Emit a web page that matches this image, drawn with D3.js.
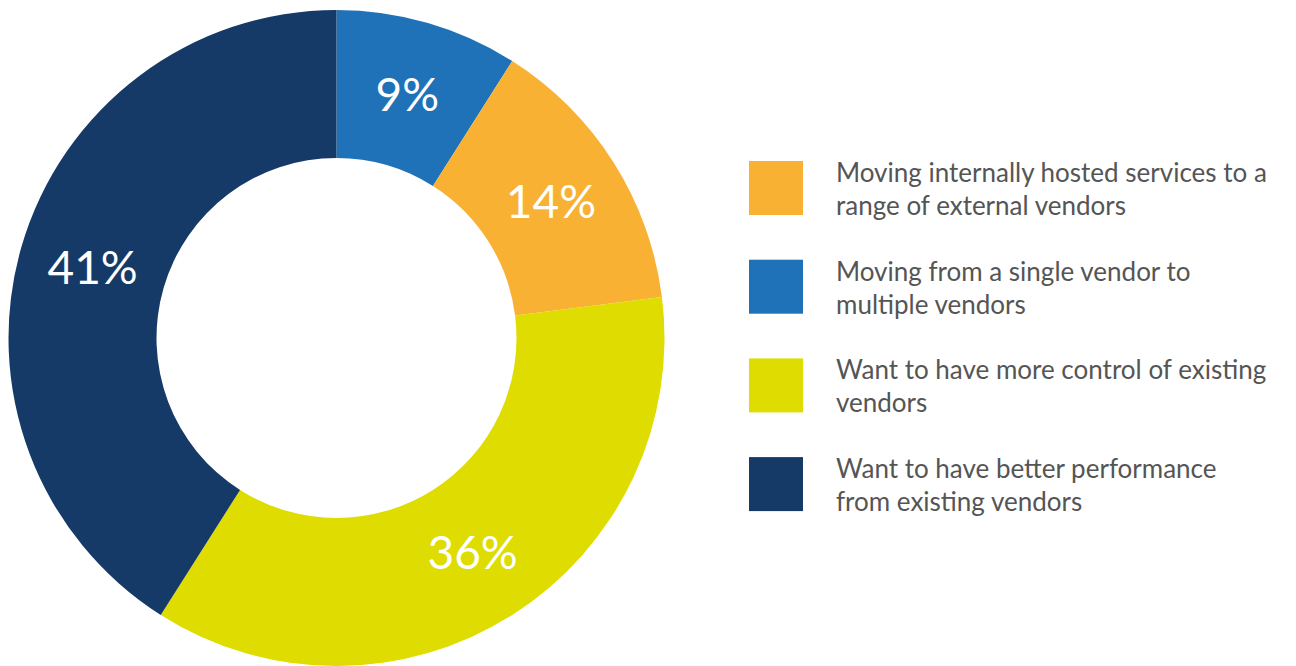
<!DOCTYPE html>
<html>
<head>
<meta charset="utf-8">
<script src="https://cdn.jsdelivr.net/npm/d3@7/dist/d3.min.js"></script>
<style>
  html, body { margin: 0; padding: 0; background: #fff; }
  svg { display: block; }
</style>
</head>
<body>
<svg id="chart" width="1296" height="666"></svg>
<script>
// Reasons for changing vendor arrangements (share of respondents, %)
const categories = [
  "Moving internally hosted services to a range of external vendors",
  "Moving from a single vendor to multiple vendors",
  "Want to have more control of existing vendors",
  "Want to have better performance from existing vendors"
];
const values = [14, 9, 36, 41];
const colors = ["#F8B133", "#1F72B8", "#DEDC00", "#163A67"];
// Legend text split into display lines
const legendLines = [
  ["Moving internally hosted services to a", "range of external vendors"],
  ["Moving from a single vendor to", "multiple vendors"],
  ["Want to have more control of existing", "vendors"],
  ["Want to have better performance", "from existing vendors"]
];
// Clockwise drawing order of the ring, starting at twelve o'clock
const ringOrder = [1, 0, 2, 3];

const svg = d3.select("#chart");
const cx = 336.5, cy = 338, outerR = 328, innerR = 180;
const fontFamily = "'Lato', 'Open Sans', sans-serif";

const data = ringOrder.map(i => ({ name: categories[i], value: values[i], color: colors[i] }));

const pie = d3.pie().sort(null).value(d => d.value);
const arc = d3.arc().innerRadius(innerR).outerRadius(outerR);
const labelArc = d3.arc().innerRadius((innerR + outerR) / 2).outerRadius((innerR + outerR) / 2);

const g = svg.append("g").attr("transform", `translate(${cx},${cy})`);
const arcs = pie(data);

g.selectAll("path.slice")
  .data(arcs)
  .join("path")
  .attr("class", "slice")
  .attr("d", arc)
  .attr("fill", d => d.data.color);

g.selectAll("text.pct")
  .data(arcs)
  .join("text")
  .attr("class", "pct")
  .attr("transform", d => `translate(${labelArc.centroid(d)})`)
  .attr("text-anchor", "middle")
  .attr("dy", "0.36em")
  .attr("fill", "#fff")
  .attr("font-family", fontFamily)
  .attr("font-size", 46)
  .text(d => d.data.value + "%");

// Legend
const legend = svg.append("g").attr("transform", "translate(749,161)");
const rowStep = 98.7;
const items = legend.selectAll("g.item")
  .data(categories.map((c, i) => ({ c, i })))
  .join("g")
  .attr("class", "item")
  .attr("transform", d => `translate(0,${d.i * rowStep})`);

items.append("rect")
  .attr("width", 54)
  .attr("height", 54)
  .attr("fill", d => colors[d.i]);

items.each(function (d) {
  const t = d3.select(this).append("text")
    .attr("x", 87)
    .attr("y", 21)
    .attr("fill", "#555555")
    .attr("font-family", fontFamily)
    .attr("font-size", 26);
  legendLines[d.i].forEach((line, k) => {
    t.append("tspan").attr("x", 87).attr("dy", k === 0 ? 0 : 33).text(line);
  });
});
</script>
</body>
</html>
